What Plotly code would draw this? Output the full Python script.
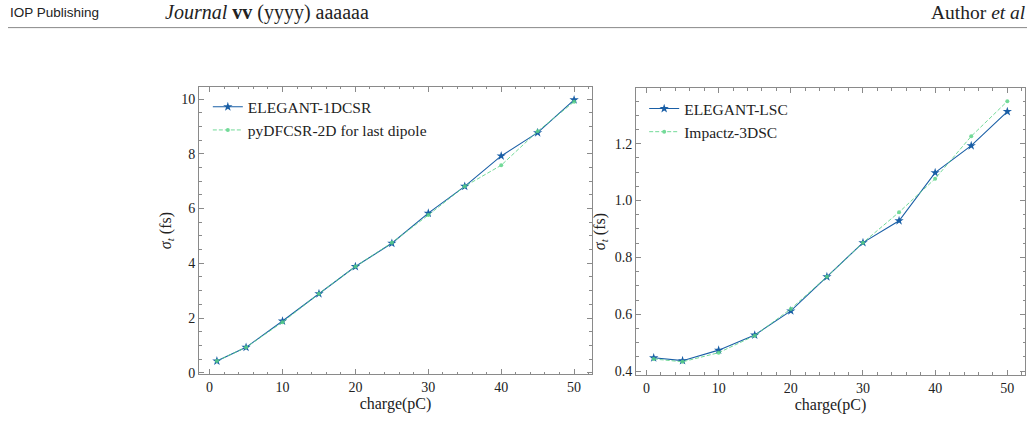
import plotly.graph_objects as go

charge = [1, 5, 10, 15, 20, 25, 30, 35, 40, 45, 50]

elegant_1dcsr = [0.43, 0.93, 1.89, 2.89, 3.88, 4.73, 5.83, 6.81, 7.92, 8.77, 9.97]
pydfcsr_2d = [0.43, 0.93, 1.85, 2.89, 3.88, 4.75, 5.76, 6.81, 7.58, 8.82, 9.90]

elegant_lsc = [0.447, 0.437, 0.474, 0.527, 0.612, 0.732, 0.852, 0.929, 1.098, 1.193, 1.313]
impactz_3dsc = [0.443, 0.433, 0.465, 0.525, 0.619, 0.732, 0.852, 0.959, 1.077, 1.226, 1.349]

BLUE = "#1A5FA6"
GREEN = "#5BD487"
FRAME = "#8a8a8a"
SERIF = "Liberation Serif, DejaVu Serif, serif"
TXT = "#222"

fig = go.Figure()

fig.add_trace(go.Scatter(x=charge, y=elegant_1dcsr, name="ELEGANT-1DCSR", mode="lines+markers",
                         line=dict(color=BLUE, width=1.1), marker=dict(symbol="star", size=7, color=BLUE),
                         xaxis="x", yaxis="y", legend="legend"))
fig.add_trace(go.Scatter(x=charge, y=pydfcsr_2d, name="pyDFCSR-2D for last dipole", mode="lines+markers",
                         line=dict(color=GREEN, width=1, dash="4px,2px"),
                         marker=dict(symbol="circle", size=4, color=GREEN),
                         opacity=0.85, xaxis="x", yaxis="y", legend="legend"))
fig.add_trace(go.Scatter(x=charge, y=elegant_lsc, name="ELEGANT-LSC", mode="lines+markers",
                         line=dict(color=BLUE, width=1.1), marker=dict(symbol="star", size=7, color=BLUE),
                         xaxis="x2", yaxis="y2", legend="legend2"))
fig.add_trace(go.Scatter(x=charge, y=impactz_3dsc, name="Impactz-3DSC", mode="lines+markers",
                         line=dict(color=GREEN, width=1, dash="4px,2px"),
                         marker=dict(symbol="circle", size=4, color=GREEN),
                         opacity=0.85, xaxis="x2", yaxis="y2", legend="legend2"))

axis_common = dict(showline=True, linecolor=FRAME, linewidth=1, mirror="allticks",
                   ticks="inside", ticklen=5, tickwidth=1, tickcolor=FRAME,
                   showgrid=False, zeroline=False,
                   tickfont=dict(family=SERIF, size=14, color=TXT),
                   title_font=dict(family=SERIF, size=16, color=TXT))


def minor(d):
    return dict(ticks="inside", ticklen=2.5, tickwidth=1, tickcolor=FRAME, dtick=d, showgrid=False)


ytitle = "<i>σ</i><sub><i>t</i></sub> (fs)"

fig.update_layout(
    width=1034, height=446,
    margin=dict(l=0, r=0, t=0, b=0),
    paper_bgcolor="white", plot_bgcolor="white",
    showlegend=True,
    xaxis=dict(domain=[0.1925, 0.5725], anchor="y", range=[-1.45, 52.45], dtick=10, tick0=0,
               minor=minor(2), title=dict(text="charge(pC)", standoff=3), **axis_common),
    yaxis=dict(domain=[0.149, 0.803], anchor="x", range=[-0.06, 10.45], dtick=2, tick0=0,
               minor=minor(0.5), title=dict(text=ytitle, standoff=5), **axis_common),
    xaxis2=dict(domain=[0.6151, 0.9913], anchor="y2", range=[-1.45, 52.45], dtick=10, tick0=0,
                minor=minor(2), title=dict(text="charge(pC)", standoff=3), **axis_common),
    yaxis2=dict(domain=[0.148, 0.7995], anchor="x2", range=[0.387, 1.395], dtick=0.2, tick0=0,
                tickformat=".1f",
                minor=minor(0.05), title=dict(text=ytitle, standoff=5), **axis_common),
    legend=dict(x=0.201, y=0.795, xanchor="left", yanchor="top", bgcolor="rgba(0,0,0,0)",
                font=dict(family=SERIF, size=15.5, color=TXT), itemwidth=30, tracegroupgap=0),
    legend2=dict(x=0.623, y=0.791, xanchor="left", yanchor="top", bgcolor="rgba(0,0,0,0)",
                 font=dict(family=SERIF, size=15.5, color=TXT), itemwidth=30, tracegroupgap=0),
)

# Header
fig.add_annotation(text="IOP Publishing", x=8 / 1034, y=1 - 13 / 446, xref="paper", yref="paper",
                   xanchor="left", yanchor="middle", showarrow=False,
                   font=dict(family="Liberation Sans, Arial, sans-serif", size=13.5, color=TXT))
fig.add_annotation(text="<i>Journal</i> <b>vv</b> (yyyy) aaaaaa", x=163 / 1034, y=1 - 13 / 446,
                   xref="paper", yref="paper", xanchor="left", yanchor="middle", showarrow=False,
                   font=dict(family=SERIF, size=20, color=TXT))
fig.add_annotation(text="Author <i>et al</i>", x=1027 / 1034, y=1 - 13 / 446,
                   xref="paper", yref="paper", xanchor="right", yanchor="middle", showarrow=False,
                   font=dict(family=SERIF, size=19.5, color=TXT))
fig.add_shape(type="line", xref="paper", yref="paper", x0=8 / 1034, x1=1027 / 1034,
              y0=1 - 28 / 446, y1=1 - 28 / 446, line=dict(color="#888", width=1))

fig.write_html("out.html")
